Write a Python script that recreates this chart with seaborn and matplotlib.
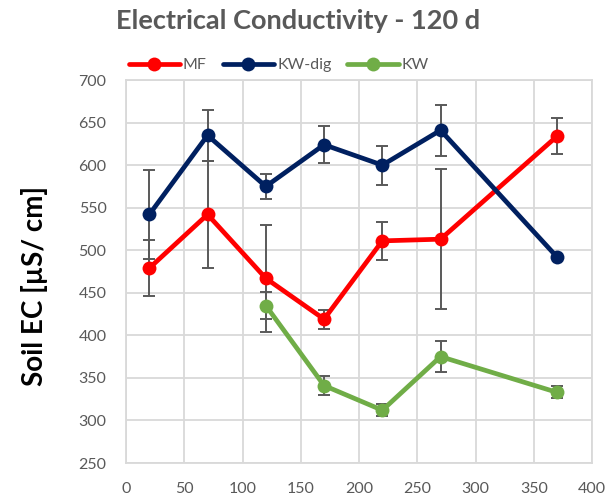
import numpy as np
import pandas as pd
import matplotlib
matplotlib.use("Agg")
import matplotlib.pyplot as plt
import seaborn as sns

# Sampling days and soil electrical conductivity (µS/cm) per treatment
days_mf = [20, 70, 120, 170, 220, 270, 370]
ec_mf = [479, 542, 467, 419, 511, 513, 634]
sd_mf = [33, 63, 63, 11, 22, 82, 21]

days_kwdig = [20, 70, 120, 170, 220, 270, 370]
ec_kwdig = [542, 635, 575, 624, 600, 641, 492]
sd_kwdig = [52, 30, 15, 22, 23, 30, 0]

days_kw = [120, 170, 220, 270, 370]
ec_kw = [435, 341, 312, 375, 333]
sd_kw = [16, 11, 7, 18, 7]

series_names = ["MF", "KW-dig", "KW"]
colors = {"MF": "#FF0000", "KW-dig": "#002060", "KW": "#70AD47"}

x_ticks = [0, 50, 100, 150, 200, 250, 300, 350, 400]
y_ticks = [250, 300, 350, 400, 450, 500, 550, 600, 650, 700]

frames = []
for name, d, v, s in [("MF", days_mf, ec_mf, sd_mf),
                      ("KW-dig", days_kwdig, ec_kwdig, sd_kwdig),
                      ("KW", days_kw, ec_kw, sd_kw)]:
    frames.append(pd.DataFrame({"day": d, "ec": v, "sd": s, "series": name}))
df = pd.concat(frames, ignore_index=True)

sns.set_theme(style="white")
plt.rcParams["font.family"] = ["Lato", "DejaVu Sans"]

fig = plt.figure(figsize=(6.10, 4.97), dpi=100)
ax = fig.add_axes([0.2066, 0.0684, 0.7639, 0.7706])

grid_c = "#D9D9D9"
tick_c = "#595959"

for i, name in enumerate(series_names):
    sub = df[df["series"] == name]
    ax.errorbar(sub["day"], sub["ec"], yerr=sub["sd"], fmt="none",
                ecolor=tick_c, elinewidth=1.4, capsize=4, capthick=1.4,
                zorder=3 + 2 * i)
    sns.lineplot(data=sub, x="day", y="ec", color=colors[name], marker="o",
                 markersize=10, markeredgewidth=0, linewidth=3.4,
                 label=name, ax=ax, zorder=4 + 2 * i)

ax.set_xlim(0, 400)
ax.set_ylim(250, 700)
ax.set_xticks(x_ticks)
ax.set_yticks(y_ticks)
ax.grid(True, color=grid_c, linewidth=1.3)
ax.set_axisbelow(True)
for sp in ax.spines.values():
    sp.set_color(grid_c)
    sp.set_linewidth(1.3)
ax.tick_params(axis="both", length=0, labelsize=11.5, colors=tick_c)
ax.tick_params(axis="x", pad=14)
ax.tick_params(axis="y", pad=14)
ax.set_xlabel("")
ax.set_ylabel("")

fig.text(0.489, 0.958, "Electrical Conductivity - 120 d", ha="center",
         va="center", fontsize=19.5, fontweight="bold", color=tick_c)
fig.text(0.056, 0.424, "Soil EC [µS/ cm]", ha="center", va="center",
         rotation=90, fontsize=20, fontweight="bold", color="black")

handles, labels = ax.get_legend_handles_labels()
ax.legend(handles, labels, loc="center", bbox_to_anchor=(0.457, 0.869),
          bbox_transform=fig.transFigure, ncol=3, frameon=False,
          fontsize=11.5, handlelength=3.2, handletextpad=0.2,
          columnspacing=1.0, labelcolor=tick_c)

fig.savefig("out.png", dpi=100)
